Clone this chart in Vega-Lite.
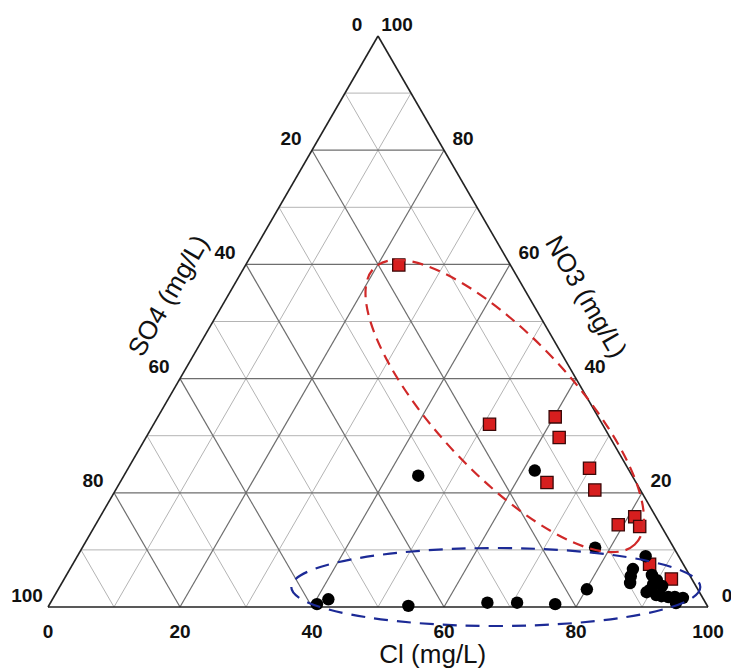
{
  "$schema": "https://vega.github.io/schema/vega-lite/v6.json",
  "width": 660,
  "height": 571,
  "autosize": {"type": "none"},
  "padding": {"left": 48, "top": 36, "right": 23, "bottom": 65},
  "background": "white",
  "config": {"view": {"stroke": null}},
  "datasets": {
    "grid": [
      {"kind": "minor", "c1": 0, "n1": 10, "c2": 90, "n2": 10},
      {"kind": "major", "c1": 0, "n1": 20, "c2": 80, "n2": 20},
      {"kind": "minor", "c1": 0, "n1": 30, "c2": 70, "n2": 30},
      {"kind": "major", "c1": 0, "n1": 40, "c2": 60, "n2": 40},
      {"kind": "minor", "c1": 0, "n1": 50, "c2": 50, "n2": 50},
      {"kind": "major", "c1": 0, "n1": 60, "c2": 40, "n2": 60},
      {"kind": "minor", "c1": 0, "n1": 70, "c2": 30, "n2": 70},
      {"kind": "major", "c1": 0, "n1": 80, "c2": 20, "n2": 80},
      {"kind": "minor", "c1": 0, "n1": 90, "c2": 10, "n2": 90},
      {"kind": "minor", "c1": 10, "n1": 0, "c2": 10, "n2": 90},
      {"kind": "major", "c1": 20, "n1": 0, "c2": 20, "n2": 80},
      {"kind": "minor", "c1": 30, "n1": 0, "c2": 30, "n2": 70},
      {"kind": "major", "c1": 40, "n1": 0, "c2": 40, "n2": 60},
      {"kind": "minor", "c1": 50, "n1": 0, "c2": 50, "n2": 50},
      {"kind": "major", "c1": 60, "n1": 0, "c2": 60, "n2": 40},
      {"kind": "minor", "c1": 70, "n1": 0, "c2": 70, "n2": 30},
      {"kind": "major", "c1": 80, "n1": 0, "c2": 80, "n2": 20},
      {"kind": "minor", "c1": 90, "n1": 0, "c2": 90, "n2": 10},
      {"kind": "minor", "c1": 90, "n1": 0, "c2": 0, "n2": 90},
      {"kind": "major", "c1": 80, "n1": 0, "c2": 0, "n2": 80},
      {"kind": "minor", "c1": 70, "n1": 0, "c2": 0, "n2": 70},
      {"kind": "major", "c1": 60, "n1": 0, "c2": 0, "n2": 60},
      {"kind": "minor", "c1": 50, "n1": 0, "c2": 0, "n2": 50},
      {"kind": "major", "c1": 40, "n1": 0, "c2": 0, "n2": 40},
      {"kind": "minor", "c1": 30, "n1": 0, "c2": 0, "n2": 30},
      {"kind": "major", "c1": 20, "n1": 0, "c2": 0, "n2": 20},
      {"kind": "minor", "c1": 10, "n1": 0, "c2": 0, "n2": 10},
      {"kind": "edge", "c1": 0, "n1": 0, "c2": 100, "n2": 0},
      {"kind": "edge", "c1": 0, "n1": 0, "c2": 0, "n2": 100},
      {"kind": "edge", "c1": 100, "n1": 0, "c2": 0, "n2": 100}
    ],
    "samples": [
      {"group": "A", "Cl": 23.2, "NO3": 59.9},
      {"group": "A", "Cl": 50.9, "NO3": 32.0},
      {"group": "A", "Cl": 60.2, "NO3": 33.3},
      {"group": "A", "Cl": 62.6, "NO3": 29.7},
      {"group": "A", "Cl": 69.9, "NO3": 24.3},
      {"group": "A", "Cl": 64.7, "NO3": 21.8},
      {"group": "A", "Cl": 72.6, "NO3": 20.5},
      {"group": "A", "Cl": 79.2, "NO3": 14.4},
      {"group": "A", "Cl": 81.0, "NO3": 15.8},
      {"group": "A", "Cl": 82.6, "NO3": 14.1},
      {"group": "A", "Cl": 87.4, "NO3": 7.5},
      {"group": "A", "Cl": 92.0, "NO3": 4.9},
      {"group": "B", "Cl": 44.6, "NO3": 23.0},
      {"group": "B", "Cl": 61.8, "NO3": 23.9},
      {"group": "B", "Cl": 77.7, "NO3": 10.4},
      {"group": "B", "Cl": 80.1, "NO3": 3.1},
      {"group": "B", "Cl": 54.5, "NO3": 0.2},
      {"group": "B", "Cl": 66.2, "NO3": 0.75},
      {"group": "B", "Cl": 70.7, "NO3": 0.75},
      {"group": "B", "Cl": 76.6, "NO3": 0.5},
      {"group": "B", "Cl": 40.5, "NO3": 0.5},
      {"group": "B", "Cl": 41.8, "NO3": 1.35},
      {"group": "B", "Cl": 86.1, "NO3": 8.9},
      {"group": "B", "Cl": 85.3, "NO3": 6.65},
      {"group": "B", "Cl": 85.6, "NO3": 5.4},
      {"group": "B", "Cl": 86.1, "NO3": 4.2},
      {"group": "B", "Cl": 88.7, "NO3": 5.6},
      {"group": "B", "Cl": 89.9, "NO3": 4.7},
      {"group": "B", "Cl": 91.2, "NO3": 3.7},
      {"group": "B", "Cl": 89.7, "NO3": 4.0},
      {"group": "B", "Cl": 89.7, "NO3": 3.0},
      {"group": "B", "Cl": 89.4, "NO3": 2.6},
      {"group": "B", "Cl": 91.1, "NO3": 2.1},
      {"group": "B", "Cl": 92.0, "NO3": 1.9},
      {"group": "B", "Cl": 94.1, "NO3": 1.75},
      {"group": "B", "Cl": 95.4, "NO3": 1.6},
      {"group": "B", "Cl": 94.8, "NO3": 0.7},
      {"group": "B", "Cl": 93.1, "NO3": 1.75}
    ],
    "ellipses": [
      {"group": "A", "Cl": 51.6, "NO3": 35.2},
      {"group": "B", "Cl": 66.1, "NO3": 3.5}
    ],
    "ticks": [
      {"side": "bottom", "label": "0", "Cl": 0, "NO3": 0},
      {"side": "bottom", "label": "20", "Cl": 20, "NO3": 0},
      {"side": "bottom", "label": "40", "Cl": 40, "NO3": 0},
      {"side": "bottom", "label": "60", "Cl": 60, "NO3": 0},
      {"side": "bottom", "label": "80", "Cl": 80, "NO3": 0},
      {"side": "bottom", "label": "100", "Cl": 100, "NO3": 0},
      {"side": "left", "label": "0", "Cl": 0, "NO3": 100},
      {"side": "left", "label": "20", "Cl": 0, "NO3": 80},
      {"side": "left", "label": "40", "Cl": 0, "NO3": 60},
      {"side": "left", "label": "60", "Cl": 0, "NO3": 40},
      {"side": "left", "label": "80", "Cl": 0, "NO3": 20},
      {"side": "left", "label": "100", "Cl": 0, "NO3": 0},
      {"side": "right", "label": "100", "Cl": 0, "NO3": 100},
      {"side": "right", "label": "80", "Cl": 20, "NO3": 80},
      {"side": "right", "label": "60", "Cl": 40, "NO3": 60},
      {"side": "right", "label": "40", "Cl": 60, "NO3": 40},
      {"side": "right", "label": "20", "Cl": 80, "NO3": 20},
      {"side": "right", "label": "0", "Cl": 100, "NO3": 0}
    ],
    "titles": [
      {"side": "bottom", "label": "Cl (mg/L)", "Cl": 58.3, "NO3": 0},
      {"side": "left", "label": "SO4 (mg/L)", "Cl": 0, "NO3": 50},
      {"side": "right", "label": "NO3 (mg/L)", "Cl": 50, "NO3": 50}
    ]
  },
  "layer": [
    {
      "data": {"name": "grid"},
      "transform": [
        {"filter": "datum.kind === 'minor'"},
        {"calculate": "datum.c1 + datum.n1 / 2", "as": "xa"},
        {"calculate": "datum.c2 + datum.n2 / 2", "as": "xb"}
      ],
      "mark": {"type": "rule", "color": "#b4b4b4", "strokeWidth": 1},
      "encoding": {
        "x": {"field": "xa", "type": "quantitative", "scale": {"domain": [0, 100], "nice": false, "zero": false}, "axis": null},
        "x2": {"field": "xb"},
        "y": {"field": "n1", "type": "quantitative", "scale": {"domain": [0, 100], "nice": false, "zero": false}, "axis": null},
        "y2": {"field": "n2"}
      }
    },
    {
      "data": {"name": "grid"},
      "transform": [
        {"filter": "datum.kind === 'major'"},
        {"calculate": "datum.c1 + datum.n1 / 2", "as": "xa"},
        {"calculate": "datum.c2 + datum.n2 / 2", "as": "xb"}
      ],
      "mark": {"type": "rule", "color": "#6e6e6e", "strokeWidth": 1.2},
      "encoding": {
        "x": {"field": "xa", "type": "quantitative", "scale": {"domain": [0, 100], "nice": false, "zero": false}, "axis": null},
        "x2": {"field": "xb"},
        "y": {"field": "n1", "type": "quantitative", "scale": {"domain": [0, 100], "nice": false, "zero": false}, "axis": null},
        "y2": {"field": "n2"}
      }
    },
    {
      "data": {"name": "grid"},
      "transform": [
        {"filter": "datum.kind === 'edge'"},
        {"calculate": "datum.c1 + datum.n1 / 2", "as": "xa"},
        {"calculate": "datum.c2 + datum.n2 / 2", "as": "xb"}
      ],
      "mark": {"type": "rule", "color": "#222222", "strokeWidth": 1.6},
      "encoding": {
        "x": {"field": "xa", "type": "quantitative", "scale": {"domain": [0, 100], "nice": false, "zero": false}, "axis": null},
        "x2": {"field": "xb"},
        "y": {"field": "n1", "type": "quantitative", "scale": {"domain": [0, 100], "nice": false, "zero": false}, "axis": null},
        "y2": {"field": "n2"}
      }
    },
    {
      "data": {"name": "samples"},
      "transform": [
        {"filter": "datum.group === 'A'"},
        {"calculate": "datum.Cl + datum.NO3 / 2", "as": "px"}
      ],
      "mark": {"type": "point", "shape": "square", "filled": true, "size": 150, "fill": "#d71e1e", "stroke": "#3a0808", "strokeWidth": 1.3, "opacity": 1},
      "encoding": {
        "x": {"field": "px", "type": "quantitative", "scale": {"domain": [0, 100], "nice": false, "zero": false}, "axis": null},
        "y": {"field": "NO3", "type": "quantitative", "scale": {"domain": [0, 100], "nice": false, "zero": false}, "axis": null}
      }
    },
    {
      "data": {"name": "samples"},
      "transform": [
        {"filter": "datum.group === 'B'"},
        {"calculate": "datum.Cl + datum.NO3 / 2", "as": "px"}
      ],
      "mark": {"type": "circle", "size": 155, "color": "#000000", "opacity": 1},
      "encoding": {
        "x": {"field": "px", "type": "quantitative", "scale": {"domain": [0, 100], "nice": false, "zero": false}, "axis": null},
        "y": {"field": "NO3", "type": "quantitative", "scale": {"domain": [0, 100], "nice": false, "zero": false}, "axis": null}
      }
    },
    {
      "data": {"name": "ellipses"},
      "transform": [
        {"filter": "datum.group === 'A'"},
        {"calculate": "datum.Cl + datum.NO3 / 2", "as": "px"}
      ],
      "mark": {
        "type": "point",
        "shape": "M 1 0 C 1 0.1977 0.5523 0.358 0 0.358 C -0.5523 0.358 -1 0.1977 -1 0 C -1 -0.1977 -0.5523 -0.358 0 -0.358 C 0.5523 -0.358 1 -0.1977 1 0 Z",
        "size": 144400,
        "angle": 46.8,
        "filled": false,
        "color": "#d02828",
        "stroke": "#d02828",
        "strokeWidth": 2.2,
        "strokeDash": [11, 7],
        "opacity": 1
      },
      "encoding": {
        "x": {"field": "px", "type": "quantitative", "scale": {"domain": [0, 100], "nice": false, "zero": false}, "axis": null},
        "y": {"field": "NO3", "type": "quantitative", "scale": {"domain": [0, 100], "nice": false, "zero": false}, "axis": null}
      }
    },
    {
      "data": {"name": "ellipses"},
      "transform": [
        {"filter": "datum.group === 'B'"},
        {"calculate": "datum.Cl + datum.NO3 / 2", "as": "px"}
      ],
      "mark": {
        "type": "point",
        "shape": "M 1 0 C 1 0.1053 0.5523 0.1907 0 0.1907 C -0.5523 0.1907 -1 0.1053 -1 0 C -1 -0.1053 -0.5523 -0.1907 0 -0.1907 C 0.5523 -0.1907 1 -0.1053 1 0 Z",
        "size": 167281,
        "filled": false,
        "color": "#1c2a96",
        "stroke": "#1c2a96",
        "strokeWidth": 2.2,
        "strokeDash": [14, 9],
        "opacity": 1
      },
      "encoding": {
        "x": {"field": "px", "type": "quantitative", "scale": {"domain": [0, 100], "nice": false, "zero": false}, "axis": null},
        "y": {"field": "NO3", "type": "quantitative", "scale": {"domain": [0, 100], "nice": false, "zero": false}, "axis": null}
      }
    },
    {
      "data": {"name": "ticks"},
      "transform": [
        {"filter": "datum.side === 'bottom'"},
        {"calculate": "datum.Cl + datum.NO3 / 2", "as": "px"}
      ],
      "mark": {"type": "text", "font": "Liberation Sans", "fontSize": 19, "fontWeight": "bold", "color": "#111111", "align": "center", "baseline": "middle", "dy": 25},
      "encoding": {
        "x": {"field": "px", "type": "quantitative", "scale": {"domain": [0, 100], "nice": false, "zero": false}, "axis": null},
        "y": {"field": "NO3", "type": "quantitative", "scale": {"domain": [0, 100], "nice": false, "zero": false}, "axis": null},
        "text": {"field": "label"}
      }
    },
    {
      "data": {"name": "ticks"},
      "transform": [
        {"filter": "datum.side === 'left'"},
        {"calculate": "datum.Cl + datum.NO3 / 2", "as": "px"}
      ],
      "mark": {"type": "text", "font": "Liberation Sans", "fontSize": 19, "fontWeight": "bold", "color": "#111111", "align": "center", "baseline": "middle", "dx": -21, "dy": -11.5},
      "encoding": {
        "x": {"field": "px", "type": "quantitative", "scale": {"domain": [0, 100], "nice": false, "zero": false}, "axis": null},
        "y": {"field": "NO3", "type": "quantitative", "scale": {"domain": [0, 100], "nice": false, "zero": false}, "axis": null},
        "text": {"field": "label"}
      }
    },
    {
      "data": {"name": "ticks"},
      "transform": [
        {"filter": "datum.side === 'right'"},
        {"calculate": "datum.Cl + datum.NO3 / 2", "as": "px"}
      ],
      "mark": {"type": "text", "font": "Liberation Sans", "fontSize": 19, "fontWeight": "bold", "color": "#111111", "align": "center", "baseline": "middle", "dx": 19, "dy": -11.5},
      "encoding": {
        "x": {"field": "px", "type": "quantitative", "scale": {"domain": [0, 100], "nice": false, "zero": false}, "axis": null},
        "y": {"field": "NO3", "type": "quantitative", "scale": {"domain": [0, 100], "nice": false, "zero": false}, "axis": null},
        "text": {"field": "label"}
      }
    },
    {
      "data": {"name": "titles"},
      "transform": [
        {"filter": "datum.side === 'bottom'"},
        {"calculate": "datum.Cl + datum.NO3 / 2", "as": "px"}
      ],
      "mark": {"type": "text", "font": "Liberation Sans", "fontSize": 26, "color": "#111111", "align": "center", "baseline": "middle", "dy": 48},
      "encoding": {
        "x": {"field": "px", "type": "quantitative", "scale": {"domain": [0, 100], "nice": false, "zero": false}, "axis": null},
        "y": {"field": "NO3", "type": "quantitative", "scale": {"domain": [0, 100], "nice": false, "zero": false}, "axis": null},
        "text": {"field": "label"}
      }
    },
    {
      "data": {"name": "titles"},
      "transform": [
        {"filter": "datum.side === 'left'"},
        {"calculate": "datum.Cl + datum.NO3 / 2", "as": "px"}
      ],
      "mark": {"type": "text", "font": "Liberation Sans", "fontSize": 26, "color": "#111111", "align": "center", "baseline": "middle", "angle": 300, "dy": -51},
      "encoding": {
        "x": {"field": "px", "type": "quantitative", "scale": {"domain": [0, 100], "nice": false, "zero": false}, "axis": null},
        "y": {"field": "NO3", "type": "quantitative", "scale": {"domain": [0, 100], "nice": false, "zero": false}, "axis": null},
        "text": {"field": "label"}
      }
    },
    {
      "data": {"name": "titles"},
      "transform": [
        {"filter": "datum.side === 'right'"},
        {"calculate": "datum.Cl + datum.NO3 / 2", "as": "px"}
      ],
      "mark": {"type": "text", "font": "Liberation Sans", "fontSize": 26, "color": "#111111", "align": "center", "baseline": "middle", "angle": 60, "dy": -49},
      "encoding": {
        "x": {"field": "px", "type": "quantitative", "scale": {"domain": [0, 100], "nice": false, "zero": false}, "axis": null},
        "y": {"field": "NO3", "type": "quantitative", "scale": {"domain": [0, 100], "nice": false, "zero": false}, "axis": null},
        "text": {"field": "label"}
      }
    }
  ]
}
